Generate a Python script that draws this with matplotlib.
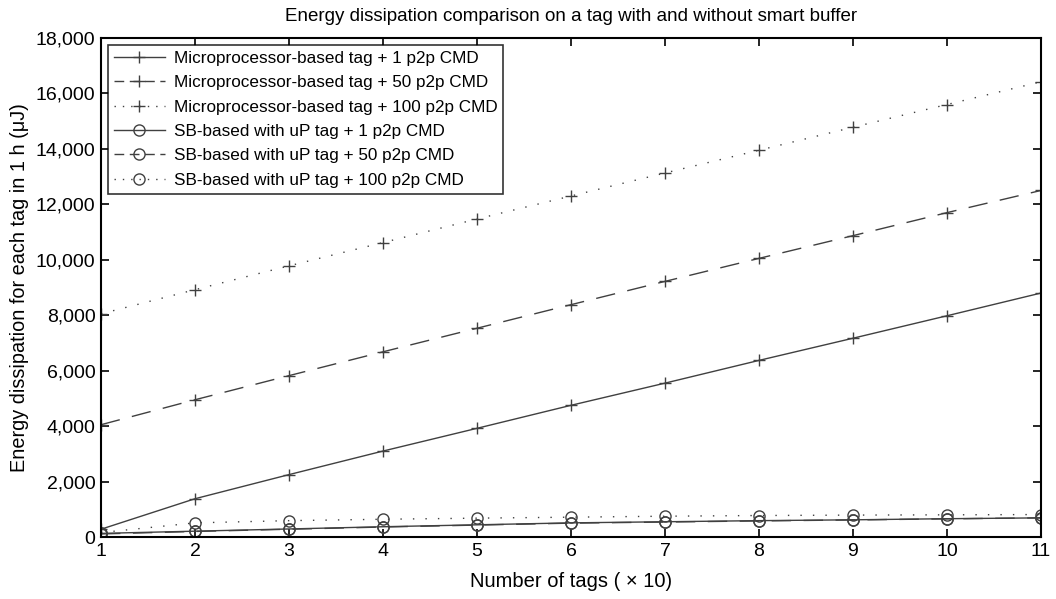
import matplotlib.pyplot as plt
from matplotlib.ticker import FuncFormatter

plt.rcParams['font.family'] = ['Liberation Sans', 'DejaVu Sans']

# Datos
tags = [1, 2, 3, 4, 5, 6, 7, 8, 9, 10, 11]
up_1 = [280, 1380, 2250, 3100, 3920, 4750, 5550, 6370, 7170, 7980, 8800]
up_50 = [4050, 4950, 5820, 6680, 7530, 8380, 9220, 10050, 10870, 11700, 12500]
up_100 = [8050, 8920, 9780, 10620, 11470, 12300, 13130, 13950, 14780, 15600, 16420]
sb_1 = [130, 210, 290, 370, 440, 510, 550, 590, 620, 660, 690]
sb_50 = [110, 200, 280, 360, 430, 500, 540, 580, 615, 655, 690]
sb_100 = [160, 510, 590, 640, 680, 715, 750, 775, 790, 800, 810]

labels = ["Microprocessor-based tag + 1 p2p CMD",
          "Microprocessor-based tag + 50 p2p CMD",
          "Microprocessor-based tag + 100 p2p CMD",
          "SB-based with uP tag + 1 p2p CMD",
          "SB-based with uP tag + 50 p2p CMD",
          "SB-based with uP tag + 100 p2p CMD"]

col = "#404040"
fig = plt.figure(figsize=(10.56, 5.99), dpi=100)
ax = fig.add_axes([0.0956, 0.1035, 0.8902, 0.8331])

series = [up_1, up_50, up_100, sb_1, sb_50, sb_100]
styles = ["-", (0, (14, 9)), (0, (1, 8)), "-", (0, (14, 9)), (0, (1, 8))]
leg_styles = ["-", (0, (7, 4)), (0, (1, 5)), "-", (0, (7, 4)), (0, (1, 5))]
markers = ["+", "+", "+", "o", "o", "o"]
for s, ls, mk, lab in zip(series, styles, markers, labels):
    ax.plot(tags, s, color=col, linestyle=ls, marker=mk, markersize=9 if mk == "+" else 8,
            markerfacecolor="none", markeredgewidth=1.0, linewidth=1.0, label=lab)

ax.set_xlim(1, 11)
ax.set_ylim(0, 18000)
ax.set_xticks(range(1, 12))
ax.set_yticks(range(0, 18001, 2000))
ax.yaxis.set_major_formatter(FuncFormatter(lambda v, p: f"{int(v):,}"))
ax.tick_params(direction="in", top=True, right=True, length=6, width=1.2,
               labelsize=14, pad=4)
for sp in ax.spines.values():
    sp.set_linewidth(1.5)

ax.set_title("Energy dissipation comparison on a tag with and without smart buffer",
             fontsize=13.5, pad=12)
ax.set_xlabel("Number of tags ( \u00d7 10)", fontsize=14.5, labelpad=9)
ax.set_ylabel("Energy dissipation for each tag in 1 h (\u03bcJ)", fontsize=14.3, labelpad=5)

leg = ax.legend(loc="upper left", fontsize=12.3, handlelength=3, frameon=True,
                fancybox=False, edgecolor="black", borderaxespad=0.4,
                labelspacing=0.55, handletextpad=0.5, borderpad=0.35)
leg.get_frame().set_linewidth(1.2)
for ln, ls in zip(leg.get_lines(), leg_styles):
    ln.set_linestyle(ls)

plt.savefig("out.png", dpi=100)
